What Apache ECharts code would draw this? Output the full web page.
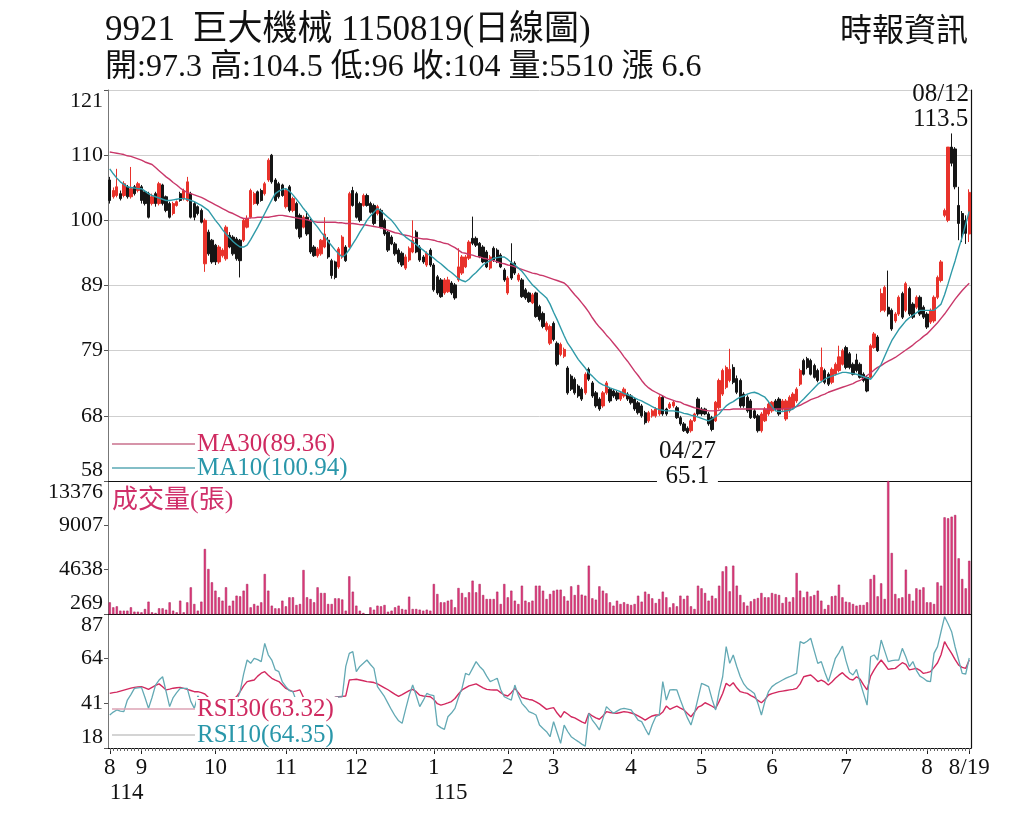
<!DOCTYPE html>
<html>
<head>
<meta charset="utf-8">
<title>9921 巨大機械 日線圖</title>
<script src="https://cdn.jsdelivr.net/npm/echarts@6/dist/echarts.min.js"></script>
<style>
html, body { margin: 0; padding: 0; background: #fff; }
#chart { width: 1024px; height: 819px; }
</style>
</head>
<body>
<div id="chart"></div>
<script>
const FONT = "'Liberation Serif', 'Noto Sans CJK TC', serif";

// trading calendar (TWSE), weekends and market holidays skipped
const firstDay = '2025-08-19';
const lastDay = '2026-08-19';
const holidays = [
    '2025-09-29', '2025-10-06', '2025-10-10', '2025-10-24', '2025-12-25',
    '2026-01-01', '2026-02-13', '2026-02-16', '2026-02-17', '2026-02-18',
    '2026-02-19', '2026-02-20', '2026-02-27', '2026-04-03', '2026-04-06',
    '2026-05-01', '2026-06-19'
];

// [open, close, low, high]
const candles = [
    [106,102.7,102.2,106.5],[103.3,104.3,103,104.8],[103.5,104.9,103.2,107.8],[103.8,103,102.7,104.3],[103.5,105.4,103.2,105.8],
    [104.9,103.3,103,105.2],[103.3,104.6,103,108.1],[104.9,103.8,103.5,105.2],[104.3,105.4,104,105.7],[104.9,102.7,102.2,105.2],
    [104.1,102.2,101.9,104.3],[103.8,100,99.8,104.1],[102.2,103.3,101.9,103.8],[103.8,102.2,101.7,104.1],[102.2,105.4,101.9,105.7],
    [105.2,102.2,101.9,105.4],[103.3,101.1,100.8,103.5],[102.2,100,99.8,102.5],[100.6,102.2,100.3,102.5],[101.9,102.5,101.7,102.7],
    [103.8,102.7,102.5,104.1],[103,104.3,102.7,104.6],[102.7,105.7,102.5,106.5],[103.8,100,99.8,104.1],[102.2,100,99.5,102.5],
    [101.7,100.6,100.3,101.9],[101.1,99.2,99,101.4],[92.5,99.5,91.2,99.8],[97.6,94.1,93.8,98],[96.3,92.8,92.5,96.5],
    [95.5,92.8,92.3,95.7],[92.8,95.2,92.5,95.5],[93.8,94.7,93.5,95],[93.3,98.4,93,98.7],[97.1,95.2,95,97.6],
    [96.8,94.1,93.8,97.1],[96.5,93.3,93,96.8],[96.3,93,90.3,96.5],[96.3,99.5,96,99.8],[98.4,99.8,98.2,100.3],
    [100,104.3,99.8,104.6],[102.2,103.8,102,104.1],[104.1,102.2,101.9,104.3],[104.3,102.7,102.5,104.6],[103.8,105.4,103.5,105.7],
    [106,109.2,105.7,109.5],[110,105.7,105.4,110.2],[106,102.7,102.5,106.3],[105.4,103.3,103,105.7],[105.2,103.5,103.3,105.4],
    [101.7,104.3,101.4,104.6],[104.9,101.1,100.8,105.2],[101.1,103,100.8,103.3],[102.2,98.2,98,102.5],[100.3,96.8,96.5,100.6],
    [98.4,100,98.2,100.3],[100,97.3,97,101],[99.5,94.4,94.1,99.8],[95.2,93.8,93.6,95.5],[93.8,94.9,93.5,95.2],
    [94.1,96.3,93.8,96.5],[95.2,97.3,95,100],[96.3,93.6,93.3,96.8],[93,90.6,90.1,93.3],[92.8,90.3,90,93],
    [92,94.9,91.7,95.2],[93.6,96.8,93.3,97.1],[95.2,93,92.8,95.5],[95.2,103.8,95,104.1],[104.3,101.9,101.7,104.9],
    [103.8,100,99.8,104.1],[102.2,99.5,99.2,102.5],[101.9,103.5,101.7,103.8],[103.5,101.9,101.7,103.8],[102.2,100.8,100.6,102.5],
    [101.9,99,98.7,102.2],[100.6,101.7,100.3,102],[101.1,98.4,98.2,101.4],[99.5,97.3,97,99.8],[97.6,94.7,94.4,97.8],
    [96.8,95.7,95.5,97.1],[95.7,94.1,93.8,96],[94.7,92.8,92.5,95],
    [94.2,92.3,92,94.5],[91.8,93.6,91.5,94],[93.1,95,92.8,95.3],[94.4,96.3,94.2,99.5],[97.6,94.4,94.2,97.9],
    [95.2,93.1,92.8,95.5],[93.6,92.8,92.5,93.9],[92.3,94.2,92,94.5],[94.7,92.3,92,95],[92.3,88.3,88,92.6],
    [90.4,87.8,87.5,90.7],[89.9,87.2,87,90.2],[87.8,89.9,87.5,90.2],[88,89.9,87.8,90.4],[89.4,87.8,87.5,89.7],
    [89.1,87,86.7,89.4],[89.9,92,89.6,95],[91,93.6,90.7,93.9],[92,93.6,91.8,93.9],[93.4,96,93.1,96.3],
    [96.6,95.8,95.5,100.1],[96.6,95.5,95.2,96.9],[95.8,93.6,93.4,96],[95.2,92.8,92.6,95.5],[94.4,92,91.8,94.7],
    [91.8,93.6,91.5,93.9],[95,93.1,92.8,95.3],[94.7,92.8,92.6,95],[93.9,92,91.8,94.2],[91.5,89.9,89.6,91.8],
    [87.8,90.2,87.5,90.5],[92.6,90.2,89.9,95.8],[92.6,91,90.7,92.9],[89.9,90.7,89.6,91],[89.9,87.2,87,90.2],
    [88.3,87,86.7,88.6],[87.8,86.4,86.2,88],[86.2,87.5,86,87.8],[87.8,84,83.8,88],[85.6,83.5,83.2,85.9],
    [84.5,82.4,82.1,84.8],[81.9,82.9,81.6,83.2],[79.7,82.4,79.4,82.7],[82.9,80.3,80,83.2],[79.7,76.3,76,80],
    [77.9,79.5,77.6,79.8],[77.6,78.7,77.3,79],[75.7,71.7,71.4,76],[74.4,72.3,72,74.7],[73.9,71.7,71.4,74.2],
    [72.8,71.2,70.9,73.1],[72.3,70.7,70.4,72.6],[71.7,74.7,71.4,75],[75.5,73.9,73.6,75.8],[73.3,71.2,70.9,73.6],
    [71.7,69.6,69.3,72],[70.7,69.1,68.8,71],[69.6,71.7,69.3,72],[71.7,73.3,71.4,73.6],[72.3,70.4,70.1,72.6],
    [72,71.2,70.9,72.3],[71.7,70.7,70.4,72],[70.7,71.7,70.4,72],[71.2,72.3,70.9,72.6],[71.5,70.7,70.4,71.8],
    [71.2,70.1,69.8,71.5],[70.7,69.1,68.8,71],[70.1,68.5,68.2,70.4],[69.6,68,67.7,69.9],[68.5,66.9,66.6,68.8],
    [67.2,68.5,66.9,68.8],[68,68.8,67.7,69.1],[68,69.1,67.7,69.4],
    [68.3,71,68,71.3],[71,68.3,68,71.2],[69.1,68.3,68,69.3],[69.3,69.9,69.1,70.2],[69.6,70.2,69.3,70.4],
    [69.3,67.7,67.5,69.6],[67.7,66.7,66.4,68],[66.7,65.6,65.4,67],[66,65.3,65.1,66.3],[65.6,67.2,65.3,67.5],
    [67.2,68.3,67,68.5],[70.7,68.3,68,71],[69.1,68.3,68,69.4],[69.1,68.3,68.1,69.3],[68.3,66.7,66.4,68.6],
    [67.7,65.8,65.5,68],[67.2,70.2,67,70.4],[69.3,73.7,69,74],[71.5,75.3,71.2,75.6],[72.6,75.8,72.3,76.1],
    [73.7,75.5,73.4,78.8],[75.8,73.4,73.1,76.3],[74,71.8,71.5,74.5],[73.7,69.6,69.3,74],[71.5,69.6,69.3,71.8],
    [71,68.8,68.5,71.3],[70.4,67.7,67.5,70.7],[68.8,67.7,67.5,69.1],[68,65.6,65.3,68.3],[65.6,68.3,65.3,68.6],
    [67.2,69.1,67,69.4],[68.3,69.9,68,70.2],[68.8,70.2,68.5,70.4],[70.4,69.1,68.8,70.7],[70.7,68.3,68,71],
    [69.1,70.4,68.8,70.7],[67.5,70.4,67.2,70.7],[68.8,71,68.5,71.3],[69.3,71.5,69,71.8],[70.4,72.3,70.1,72.6],
    [73.1,75.3,72.8,75.6],[76.9,74.7,74.5,77.2],[77.2,75.8,75.5,77.5],[76.9,74.7,74.5,77.2],[76.1,74.2,74,76.4],
    [75.3,73.7,73.4,75.6],[73.7,75.8,73.4,79],[75.3,73.4,73.1,75.6],[74.7,73.1,72.8,75],[73.4,75.5,73.1,75.8],
    [74.7,76.3,74.5,76.6],[75.3,77.5,75,79.3],[76.3,78.5,76.1,78.8],[79,75.8,75.5,79.3],[78,75.8,75.5,78.3],
    [76.3,74.7,74.5,76.6],[77,75.3,75,78],[76.3,74.2,74,76.6],[74.7,73.7,73.4,75],[74.2,72,71.8,74.5],
    [74.2,79.3,74,79.6],[79,81.2,78.8,81.5],[80.7,78.5,78.3,81],[85,87.7,84.7,88.5],[85,88.7,84.7,89],
    [85.5,84.4,84,91.4],[85,82,81.7,85.3],[83.3,84.4,83,84.7],[84.4,87.1,84.1,87.4],[87.7,83.9,83.6,88],
    [85,89.3,84.7,89.6],[88.5,84.4,84.1,88.8],[86,83.9,83.6,86.3],[85.5,87.1,85.2,87.4],[87.1,84.4,84.1,87.4],
    [85.5,83.9,83.6,85.8],[84.4,82.3,82,84.7],[83.1,85,82.8,85.3],[83.3,87.1,83,87.4],[87.1,90.3,86.8,90.6],
    [89.8,92.8,89.5,93.1],[100.3,101.1,100,101.4],[99.5,111.3,99.2,111.3],[111.3,108.7,108.2,113.5],[111,104.9,104.5,111.3],
    [101.9,99,96.3,104.9],[100.6,97.3,96,101],[99.5,97.4,95.7,100.3],[97.3,104,96,104.5]
];

// shares traded (張)
const volumes = [
    1419,926,1025,598,598,598,926,499,499,433,
    762,1485,433,368,827,827,696,1419,598,433,
    1583,433,1419,2897,1255,598,1485,6675,4704,3390,
    2569,1912,1583,2897,1090,1583,2075,2010,2569,3226,
    926,1255,1090,1419,4211,2569,1090,827,827,1583,
    1025,1912,1912,1156,1255,4605,1912,1747,1419,2897,
    2339,2339,1255,1255,1813,1813,1700,598,3981,2470,
    1090,598,368,269,926,696,1090,1025,1156,499,
    598,926,1090,762,696,1977,762,762,696,598,
    696,598,3226,2240,1419,1419,1583,1682,926,2831,
    2339,1912,2404,3554,2404,3226,2141,1747,1747,1747,
    2470,1255,3226,1912,2569,1583,1255,3061,1583,1419,
    1583,3061,
    3061,2569,1747,2240,2569,2667,2667,2010,1583,2995,
    2141,3127,2174,2075,5032,1813,1682,2995,2569,2306,
    1419,1090,1583,1255,1419,1255,1156,1255,2075,1485,
    2470,2240,1813,1353,1747,2470,1912,926,1320,1025,
    2075,1747,2075,1025,762,3061,2798,2339,1583,2075,
    1813,3061,4474,4967,2503,5032,3061,2141,1419,1090,
    1517,1747,1846,2339,1912,1912,2339,2240,2141,1353,
    1912,1485,1912,4310,2569,1912,2470,2010,2141,2569,
    1583,762,1156,2010,2075,3160,1912,1485,1419,1255,
    1090,1156,1156,1419,3719,4113,2010,3291,1750,13376,
    6281,2240,1813,1912,4638,2240,1583,2798,2667,2897,
    1419,1419,1255,3390,3061,9795,9697,9861,10025,5755,
    3719,2798,5510
];

const ma30 = [
    110.5,110.4,110.3,110.2,110.1,109.9,109.8,109.6,109.4,109.2,
    108.9,108.7,108.5,108.0,107.5,107.0,106.5,106.1,105.6,105.2,
    104.7,104.3,104.0,103.8,103.6,103.4,103.2,102.9,102.6,102.3,
    102.0,101.7,101.4,101.1,100.8,100.6,100.3,100.0,99.8,99.8,
    99.9,99.9,100.0,100.0,100.0,100.0,100.1,100.2,100.3,100.3,
    100.2,100.1,100.0,99.9,99.8,99.7,99.6,99.4,99.3,99.2,
    99.2,99.2,99.2,99.2,99.2,99.1,99.1,99.0,99.0,99.0,
    98.9,98.8,98.8,98.7,98.6,98.5,98.4,98.3,98.1,97.9,
    97.7,97.5,97.4,97.2,97.1,97.0,96.8,96.7,96.6,96.5,
    96.5,96.4,96.3,96.1,96.0,95.8,95.7,95.4,95.1,94.7,
    94.3,94.2,94.0,93.9,93.7,93.6,93.4,93.3,93.1,93.0,
    92.8,92.6,92.5,92.3,92.2,92.0,91.8,91.6,91.4,91.2,
    91.0,90.9,90.7,90.6,90.4,90.2,90.0,89.8,89.6,89.4,
    88.9,88.2,87.5,86.9,86.2,85.5,84.7,83.8,83.0,82.3,
    81.7,81.0,80.4,79.7,79.0,78.3,77.5,76.8,76.0,75.2,
    74.5,73.7,73.0,72.5,72.1,71.8,71.5,71.2,70.9,70.7,
    70.5,70.3,70.2,69.9,69.7,69.5,69.3,69.2,69.0,68.9,
    68.8,68.8,68.8,68.9,69.0,69.0,69.0,69.1,69.1,69.1,
    69.1,69.1,69.1,69.1,69.1,69.1,69.1,69.1,69.1,69.1,
    69.1,69.1,69.2,69.2,69.3,69.5,69.7,70.0,70.3,70.6,
    70.8,71.0,71.3,71.5,71.8,72.0,72.2,72.4,72.6,72.8,
    73.0,73.2,73.5,73.7,74.1,74.5,74.9,75.4,75.8,76.1,
    76.5,76.8,77.1,77.4,77.8,78.2,78.6,79.0,79.4,79.9,
    80.3,80.8,81.2,81.8,82.4,83.0,83.7,84.4,85.2,86.0,
    86.8,87.5,88.2,88.8,89.36
];

const ma10 = [
    107.8,107.0,106.3,105.7,105.3,104.9,104.8,104.7,104.6,104.6,
    104.2,103.8,103.5,103.3,103.1,102.9,102.7,102.7,102.8,102.9,
    103.0,103.0,102.9,102.7,102.5,102.2,101.9,101.5,101.1,100.3,
    99.5,98.8,98.0,97.3,96.7,96.1,95.6,95.2,95.2,95.5,
    96.4,97.4,98.4,99.5,100.6,101.7,102.8,103.8,104.2,104.5,
    104.6,104.2,103.6,102.9,102.2,101.4,100.7,99.9,99.1,98.4,
    97.6,96.9,96.1,95.4,94.7,94.1,93.6,94.0,94.8,95.7,
    96.6,97.6,98.5,99.5,100.2,100.8,101.4,101.0,100.5,100.0,
    99.5,98.8,98.0,97.3,96.8,96.4,96.0,95.6,95.1,94.7,
    94.2,93.8,93.4,92.9,92.5,92.0,91.5,91.1,90.6,90.1,
    89.8,89.6,90.0,90.6,91.1,91.7,92.3,92.7,93.0,93.4,
    93.5,93.6,93.6,93.2,92.7,92.3,91.8,91.3,90.6,89.8,
    89.1,88.6,88.0,87.5,87.0,86.0,84.7,83.5,82.2,80.9,
    79.7,78.9,78.0,77.1,76.4,75.7,74.9,74.4,73.8,73.3,
    73.0,72.8,72.5,72.3,72.1,71.9,71.6,71.4,71.2,70.9,
    70.6,70.4,70.1,69.8,69.5,69.2,69.0,68.9,68.8,68.8,
    68.8,68.7,68.6,68.4,68.3,68.1,68.0,67.8,67.6,67.4,
    67.2,67.5,67.9,68.3,69.0,69.6,70.0,70.3,70.7,71.0,
    71.2,71.5,71.7,71.8,71.6,71.3,71.0,70.3,69.5,68.8,
    68.7,68.7,68.8,68.9,69.1,69.6,70.2,70.7,71.3,71.9,
    72.5,73.1,73.5,73.9,74.2,74.4,74.6,74.8,75.0,75.0,
    74.9,74.8,74.7,74.5,74.3,74.1,73.9,74.6,75.4,76.3,
    77.6,78.9,80.1,81.0,81.9,82.6,83.3,83.8,84.2,84.6,
    85.0,85.0,85.0,85.0,85.0,85.5,86.0,87.5,89.3,91.2,
    93.0,95.0,96.8,98.9,100.94
];

const rsi30 = [
    46.1,46.5,46.8,47.3,47.8,48.3,48.8,49.2,49.5,49.6,
    49.0,48.2,49.2,50.2,51.0,49.5,47.9,48.3,48.8,49.0,
    49.2,48.7,48.2,47.6,47.0,47.0,46.5,45.8,44.0,43.5,
    43.0,42.8,43.2,43.0,42.5,42.8,44.5,47.0,50.0,52.2,
    52.6,53.0,55.0,56.5,57.3,55.5,53.9,53.0,52.2,50.5,
    48.7,47.8,47.0,47.4,47.9,44.0,43.5,43.0,42.5,42.8,
    43.0,42.5,42.8,43.5,44.1,44.4,44.6,44.8,53.0,53.2,
    53.4,53.0,52.6,52.2,52.0,51.7,51.0,50.0,49.0,48.0,
    46.8,45.6,44.6,45.5,46.5,47.5,48.2,47.0,45.2,44.8,
    44.6,44.4,43.0,40.8,40.1,40.6,41.2,41.9,43.5,45.8,
    47.9,49.0,50.0,50.5,51.0,50.0,49.0,48.2,48.0,47.9,
    47.9,46.5,45.3,44.8,46.5,48.7,46.5,44.1,43.5,43.0,
    42.7,41.8,40.7,39.3,37.9,38.4,38.8,36.0,33.8,36.7,
    35.5,34.1,33.5,32.5,31.5,30.7,35.9,34.5,33.5,32.8,
    34.5,36.7,36.3,36.0,35.9,36.3,36.7,36.5,36.0,35.5,
    34.5,33.5,32.4,33.5,34.5,35.0,35.0,36.5,39.6,37.9,
    38.8,39.6,38.5,37.6,35.8,34.1,36.5,39.0,39.8,41.3,
    40.5,39.5,38.4,42.0,46.1,51.3,49.9,51.6,49.0,47.0,
    46.5,46.1,45.0,44.1,42.5,41.3,43.0,45.3,46.0,46.5,
    47.0,47.3,47.6,47.9,48.2,48.7,51.0,54.7,55.2,55.6,
    54.0,52.2,53.0,52.0,50.4,52.0,53.9,55.5,56.8,55.0,
    53.5,53.0,54.7,53.5,50.5,47.9,55.0,58.2,61.0,63.3,
    61.0,58.5,58.8,59.0,60.5,61.9,61.0,58.2,58.6,59.0,
    58.0,56.4,56.8,57.3,59.5,61.9,66.0,72.8,69.5,66.7,
    63.5,60.7,59.5,59.0,63.32
];

const rsi10 = [
    35.0,36.5,37.6,37.0,36.7,42.7,45.5,48.7,49.0,49.2,
    44.0,38.4,44.0,50.4,53.0,54.7,47.0,39.3,44.0,46.5,
    48.7,48.7,48.7,42.0,38.4,44.8,41.9,38.5,35.0,36.0,
    37.0,38.0,39.0,40.0,41.0,40.0,42.5,47.0,56.0,63.3,
    61.6,64.2,63.5,62.5,71.9,66.0,63.3,58.2,57.3,52.0,
    49.6,47.5,47.0,42.0,38.0,36.0,35.0,34.0,34.5,36.0,
    37.0,38.5,40.0,42.5,44.1,44.3,44.4,60.0,66.7,67.6,
    57.3,60.0,61.6,63.3,61.0,59.0,49.6,47.0,44.4,41.0,
    37.6,34.5,32.0,30.7,38.0,45.0,50.4,45.0,39.3,42.5,
    46.1,45.3,45.0,29.8,28.5,27.6,34.1,36.0,38.4,44.0,
    48.7,56.4,55.6,59.0,62.5,60.0,58.2,55.0,52.2,53.0,
    53.9,48.0,44.4,43.5,42.7,50.4,45.0,41.0,39.0,36.7,
    36.0,35.0,29.8,28.0,26.4,23.8,31.6,26.0,20.4,29.8,
    26.5,23.8,22.5,21.3,20.0,19.0,35.9,32.4,30.0,27.3,
    33.0,39.3,37.5,35.9,37.0,38.0,38.4,38.0,37.6,35.0,
    32.4,31.6,28.0,24.7,30.0,34.1,35.0,52.2,42.7,47.9,
    48.0,47.9,42.7,38.0,33.5,29.8,36.0,43.6,51.3,50.5,
    49.6,43.0,37.6,47.0,54.7,70.2,61.6,65.9,60.0,54.7,
    51.0,48.7,47.5,46.1,41.0,35.0,42.0,47.0,49.6,51.0,
    52.0,53.0,54.0,54.7,55.5,56.4,72.8,71.9,73.0,74.5,
    68.0,61.6,62.5,57.0,52.2,58.0,64.2,67.0,70.5,63.0,
    57.0,55.6,58.5,52.0,46.0,40.1,65.0,65.9,63.3,73.6,
    68.0,62.5,63.0,63.2,63.3,69.3,65.0,59.9,62.5,58.0,
    55.0,53.9,52.5,52.2,66.7,70.2,78.0,85.6,82.0,77.9,
    70.0,63.3,56.4,56.1,64.35
];

// axis ranges of the three panels
const priceAxis = { min: 57.5, max: 120.5, step: 10.5 };
const volAxis = { min: 269, max: 13376, step: 4369 };
const rsiAxis = { min: 18, max: 87, step: 23 };

function tradingDays(from, to, skip) {
    const out = [];
    const d = new Date(from + 'T00:00:00Z');
    const end = new Date(to + 'T00:00:00Z');
    while (d <= end) {
        const wd = d.getUTCDay();
        const s = d.toISOString().slice(0, 10);
        if (wd !== 0 && wd !== 6 && !skip.includes(s)) out.push(s);
        d.setUTCDate(d.getUTCDate() + 1);
    }
    return out;
}

const dates = tradingDays(firstDay, lastDay, holidays);
const lastIdx = dates.length - 1;
const monthStart = new Set(dates.map((d, i) => (i === 0 || d.slice(5, 7) !== dates[i - 1].slice(5, 7)) ? i : -1).filter(i => i >= 0));
const yearStart = new Set(dates.map((d, i) => (i === 0 || d.slice(0, 4) !== dates[i - 1].slice(0, 4)) ? i : -1).filter(i => i >= 0));

const fmt = v => String(+v.toFixed(2));
const mmdd = d => d.slice(5, 7) + '/' + d.slice(8, 10);

let hiIdx = 0, loIdx = 0;
candles.forEach((c, i) => {
    if (c[3] > candles[hiIdx][3]) hiIdx = i;
    if (c[2] < candles[loIdx][2]) loIdx = i;
});

const last = candles[lastIdx];
const prevClose = candles[lastIdx - 1][1];
const rocDate = (+lastDay.slice(0, 4) - 1911) + lastDay.slice(5, 7) + lastDay.slice(8, 10);
const titleText = `9921  巨大機械 ${rocDate}(日線圖)`;
const quoteText = `開:${fmt(last[0])} 高:${fmt(last[3])} 低:${fmt(last[2])} 收:${fmt(last[1])} 量:${volumes[lastIdx]} 漲 ${fmt(last[1] - prevClose)}`;

const gridBox = { left: 108, right: 53 };
const labelStyle = { color: '#111', fontFamily: FONT, fontSize: 22, margin: 5 };

function catAxis(gridIndex, extra) {
    return Object.assign({
        type: 'category',
        gridIndex,
        position: 'bottom',
        data: dates,
        boundaryGap: true,
        axisLine: { show: true, lineStyle: { color: '#111', width: 1.2 } },
        axisTick: { show: false },
        axisLabel: { show: false },
        splitLine: { show: false }
    }, extra);
}

function valAxis(gridIndex, range, extra) {
    return Object.assign({
        type: 'value',
        gridIndex,
        position: 'left',
        min: range.min,
        max: range.max,
        interval: range.step,
        axisLine: { show: true, lineStyle: { color: '#777' } },
        axisTick: { show: true, length: 4, lineStyle: { color: '#555' } },
        axisLabel: Object.assign({}, labelStyle, {
            verticalAlignMaxLabel: 'top',
            verticalAlignMinLabel: 'bottom',
            formatter: v => String(Math.round(v))
        }),
        splitLine: { show: false }
    }, extra);
}

function borderAxis(gridIndex) {
    return {
        type: 'value', gridIndex, position: 'right', min: 0, max: 1,
        axisLine: { show: true, lineStyle: { color: '#111', width: 1.2 } },
        axisTick: { show: false }, axisLabel: { show: false }, splitLine: { show: false }
    };
}

function legendLine(y, stroke) {
    return { type: 'line', z: 101, shape: { x1: 112, y1: y, x2: 195, y2: y }, style: { stroke, lineWidth: 1.3 } };
}

function legendText(y, text, fill) {
    return { type: 'text', z: 101, x: 197, y, style: { text, fill, fontFamily: FONT, fontSize: 25, verticalAlign: 'middle' } };
}

const monthTick = i => monthStart.has(i) || i === lastIdx;

const option = {
    animation: false,
    backgroundColor: '#fff',
    textStyle: { fontFamily: FONT },
    grid: [
        Object.assign({ top: 90, height: 391 }, gridBox),
        Object.assign({ top: 481, height: 133 }, gridBox),
        Object.assign({ top: 614, height: 134 }, gridBox)
    ],
    xAxis: [
        catAxis(0),
        catAxis(1),
        catAxis(2, {
            axisTick: { show: true, alignWithLabel: true, length: 6, interval: monthTick, lineStyle: { color: '#222' } },
            axisLabel: Object.assign({}, labelStyle, {
                show: true, fontSize: 23, margin: 8,
                interval: monthTick,
                formatter: (v, i) => i === lastIdx ? (+v.slice(5, 7)) + '/' + v.slice(8, 10) : String(+v.slice(5, 7))
            })
        }),
        catAxis(2, {
            axisLine: { show: false },
            axisTick: { show: true, alignWithLabel: true, length: 3, interval: 0, lineStyle: { color: '#666' } }
        }),
        catAxis(2, {
            offset: 25,
            axisLine: { show: false },
            axisLabel: Object.assign({}, labelStyle, {
                show: true, fontSize: 23, margin: 8, align: 'left',
                interval: i => yearStart.has(i),
                formatter: v => String(+v.slice(0, 4) - 1911)
            })
        })
    ],
    yAxis: [
        valAxis(0, priceAxis, {
            splitLine: { show: true, lineStyle: { color: '#cfcfcf', width: 1 } }
        }),
        valAxis(1, volAxis),
        valAxis(2, rsiAxis),
        borderAxis(0),
        borderAxis(1),
        borderAxis(2)
    ],
    graphic: [
        { type: 'text', x: 105, y: 31, style: { text: titleText, fill: '#111', fontFamily: FONT, fontSize: 35, verticalAlign: 'middle' } },
        { type: 'text', x: 105, y: 68, style: { text: quoteText, fill: '#111', fontFamily: FONT, fontSize: 32, verticalAlign: 'middle' } },
        { type: 'text', x: 968, y: 33, style: { text: '時報資訊', fill: '#111', fontFamily: FONT, fontSize: 32, align: 'right', verticalAlign: 'middle' } },
        legendLine(444, '#c8718c'),
        legendText(444, `MA30(${ma30[lastIdx].toFixed(2)})`, '#cf2a60'),
        legendLine(468, '#5aa9b5'),
        legendText(468, `MA10(${ma10[lastIdx].toFixed(2)})`, '#2a97aa'),
        { type: 'text', z: 101, x: 112, y: 501, style: { text: '成交量(張)', fill: '#d0306a', fontFamily: FONT, fontSize: 26, verticalAlign: 'middle' } },
        { type: 'rect', z: 100, shape: { x: 196, y: 697, width: 142, height: 49 }, style: { fill: '#fff' } },
        legendLine(709, '#dca3b5'),
        legendText(709, `RSI30(${rsi30[lastIdx].toFixed(2)})`, '#cf2a60'),
        legendLine(735, '#c6c6c6'),
        legendText(735, `RSI10(${rsi10[lastIdx].toFixed(2)})`, '#2a97aa')
    ],
    series: [
        {
            name: 'K', type: 'candlestick', xAxisIndex: 0, yAxisIndex: 0,
            data: candles,
            barWidth: 2.8,
            itemStyle: { color: '#e8322b', color0: '#151515', borderColor: '#e8322b', borderColor0: '#151515', borderWidth: 1 },
            markPoint: {
                symbol: 'circle', symbolSize: 1,
                itemStyle: { color: 'rgba(0,0,0,0)' },
                label: {
                    show: true, color: '#111', fontFamily: FONT, fontSize: 25, lineHeight: 25,
                    formatter: p => p.name + '\n' + p.value
                },
                data: [
                    { name: mmdd(dates[hiIdx]), coord: [hiIdx, candles[hiIdx][3]], value: candles[hiIdx][3],
                      label: { position: 'top', distance: 1, offset: [-11, 0] } },
                    { name: mmdd(dates[loIdx]), coord: [loIdx, candles[loIdx][2]], value: candles[loIdx][2],
                      label: { position: 'bottom', distance: 5, backgroundColor: '#fff', padding: [0, 2] } }
                ]
            }
        },
        { name: 'MA30', type: 'line', xAxisIndex: 0, yAxisIndex: 0, data: ma30, symbol: 'none',
          lineStyle: { color: '#c9386a', width: 1.4 } },
        { name: 'MA10', type: 'line', xAxisIndex: 0, yAxisIndex: 0, data: ma10, symbol: 'none',
          lineStyle: { color: '#2f9aa8', width: 1.4 } },
        { name: 'VOL', type: 'bar', xAxisIndex: 1, yAxisIndex: 1, data: volumes, barWidth: 2.2,
          itemStyle: { color: '#e53d7e', borderColor: '#a11a55', borderWidth: 0.5 } },
        { name: 'RSI30', type: 'line', xAxisIndex: 2, yAxisIndex: 2, data: rsi30, symbol: 'none',
          lineStyle: { color: '#d2295f', width: 1.4 } },
        { name: 'RSI10', type: 'line', xAxisIndex: 2, yAxisIndex: 2, data: rsi10, symbol: 'none',
          lineStyle: { color: '#63a9b4', width: 1.3 } }
    ]
};

const chart = echarts.init(document.getElementById('chart'));
chart.setOption(option);

window.addEventListener('resize', () => chart.resize());
</script>
</body>
</html>
